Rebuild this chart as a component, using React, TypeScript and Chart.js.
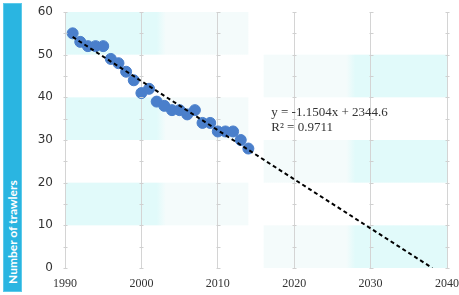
import React, { useEffect, useRef } from "react";
import { Chart, registerables } from "chart.js";

Chart.register(...registerables);

const years = [1991, 1992, 1993, 1994, 1995, 1996, 1997, 1998, 1999, 2000, 2001, 2002, 2003, 2004, 2005, 2006, 2007, 2008, 2009, 2010, 2011, 2012, 2013, 2014];
const trawlers = [55, 53, 52, 52, 52, 49, 48, 46, 44, 41, 42, 39, 38, 37, 37, 36, 37, 34, 34, 32, 32, 32, 30, 28];
const trendSlope = -1.1504;
const trendIntercept = 2344.6;
const trendStartYear = 1991;
const equationLines = ["y = -1.1504x + 2344.6", "R\u00b2 = 0.9711"];
const yTicks = [0, 10, 20, 30, 40, 50, 60];
const xTicks = [1990, 2000, 2010, 2020, 2030, 2040];
const yTitle = "Number of trawlers";

const trendEndYear = -trendIntercept / trendSlope;
const trendX = [trendStartYear, trendEndYear];
const trendY = trendX.map((x) => trendSlope * x + trendIntercept);

const bandsPlugin = {
  id: "bands",
  beforeDraw(chart: any) {
    const { ctx, scales } = chart;
    const xs = scales.x;
    const ys = scales.y;
    ctx.save();
    const blocks = [
      { x0: 1990, x1: 2014, rows: [[10, 20], [30, 40], [50, 60]], dir: 1 },
      { x0: 2016, x1: 2040, rows: [[0, 10], [20, 30], [40, 50]], dir: -1 },
    ];
    for (const b of blocks) {
      const px0 = xs.getPixelForValue(b.x0);
      const px1 = xs.getPixelForValue(b.x1);
      const g = ctx.createLinearGradient(px0, 0, px1, 0);
      const strong = "rgba(225,250,250,1)";
      const weak = "rgba(244,251,251,1)";
      if (b.dir === 1) {
        g.addColorStop(0, strong);
        g.addColorStop(0.5, strong);
        g.addColorStop(0.55, weak);
        g.addColorStop(1, weak);
      } else {
        g.addColorStop(0, weak);
        g.addColorStop(0.45, weak);
        g.addColorStop(0.5, strong);
        g.addColorStop(1, strong);
      }
      ctx.fillStyle = g;
      for (const [y0, y1] of b.rows) {
        const py0 = ys.getPixelForValue(y1);
        const py1 = ys.getPixelForValue(y0);
        ctx.fillRect(px0, py0, px1 - px0, py1 - py0);
      }
    }
    ctx.restore();
  },
  afterDraw(chart: any) {
    const { ctx, scales } = chart;
    const xs = scales.x;
    const ys = scales.y;
    ctx.save();
    ctx.strokeStyle = "#d0d0d0";
    ctx.lineWidth = 1;
    for (const xv of xTicks) {
      const px = Math.round(xs.getPixelForValue(xv)) + 0.5;
      for (let yv = 0; yv <= 60; yv += 5) {
        const py = Math.round(ys.getPixelForValue(yv)) + 0.5;
        ctx.beginPath();
        ctx.moveTo(px - 2, py);
        ctx.lineTo(px + 2, py);
        ctx.stroke();
      }
    }
    ctx.restore();
  },
};

const equationPlugin = {
  id: "equation",
  afterDatasetsDraw(chart: any) {
    const { ctx, scales } = chart;
    const px = scales.x.getPixelForValue(2017);
    const py = scales.y.getPixelForValue(36.4);
    ctx.save();
    ctx.fillStyle = "#333333";
    ctx.font = "13px 'Liberation Serif', serif";
    ctx.textBaseline = "middle";
    ctx.textAlign = "left";
    equationLines.forEach((line, i) => ctx.fillText(line, px, py + i * 15));
    ctx.restore();
  },
};

export default function App() {
  const canvasRef = useRef<HTMLCanvasElement | null>(null);

  useEffect(() => {
    document.body.style.margin = "0";
    const canvas = canvasRef.current;
    if (!canvas) return;
    const chart = new Chart(canvas, {
      type: "scatter",
      data: {
        datasets: [
          {
            type: "line",
            label: "trend",
            data: trendX.map((x, i) => ({ x, y: trendY[i] })),
            borderColor: "#000000",
            borderWidth: 2,
            borderDash: [4, 3],
            pointRadius: 0,
            fill: false,
            order: 0,
          } as any,
          {
            label: "trawlers",
            data: years.map((x, i) => ({ x, y: trawlers[i] })),
            backgroundColor: "#4a7fcb",
            borderColor: "#4a7fcb",
            pointRadius: 5.5,
            pointHoverRadius: 5.5,
            order: 1,
          },
        ],
      },
      options: {
        animation: false,
        responsive: false,
        maintainAspectRatio: false,
        events: [],
        layout: { padding: 0 },
        plugins: { legend: { display: false }, tooltip: { enabled: false } },
        scales: {
          x: {
            type: "linear",
            min: 1990,
            max: 2040,
            afterBuildTicks: (s: any) => {
              s.ticks = xTicks.map((v) => ({ value: v }));
            },
            afterFit: (s: any) => {
              s.height = 27;
              s.paddingLeft = 0;
              s.paddingRight = 12;
            },
            ticks: {
              color: "#333333",
              font: { family: "'Liberation Serif', serif", size: 12 },
              padding: 9,
              maxRotation: 0,
              callback: (v: any) => String(v),
            },
            grid: { color: "#d4d4d4", drawTicks: false },
            border: { display: false },
          },
          y: {
            min: 0,
            max: 60,
            afterBuildTicks: (s: any) => {
              s.ticks = yTicks.map((v) => ({ value: v }));
            },
            afterFit: (s: any) => {
              s.width = 65;
              s.paddingTop = 12;
              s.paddingBottom = 0;
            },
            ticks: {
              color: "#333333",
              font: { family: "'DejaVu Sans', sans-serif", size: 12 },
              padding: 12,
            },
            grid: { display: false, drawTicks: false },
            border: { display: false },
          },
        },
      },
      plugins: [bandsPlugin, equationPlugin],
    });
    return () => chart.destroy();
  }, []);

  return (
    <div style={{ position: "relative", width: 459, height: 295, background: "#ffffff" }}>
      <canvas ref={canvasRef} width={459} height={295} style={{ display: "block" }} />
      <div
        style={{
          position: "absolute",
          left: 3,
          top: 3,
          width: 19,
          height: 289,
          background: "#2ab5e1",
          boxSizing: "border-box",
          border: "1px solid #5ccaea",
        }}
      >
        <div
          style={{
            width: "100%",
            height: "100%",
            writingMode: "vertical-rl",
            transform: "rotate(180deg)",
            color: "#ffffff",
            fontFamily: "'Lato', sans-serif",
            fontWeight: 700,
            fontSize: 12,
            lineHeight: "17px",
            textAlign: "start",
            paddingTop: 7,
            boxSizing: "border-box",
            whiteSpace: "nowrap",
          }}
        >
          {yTitle}
        </div>
      </div>
    </div>
  );
}
